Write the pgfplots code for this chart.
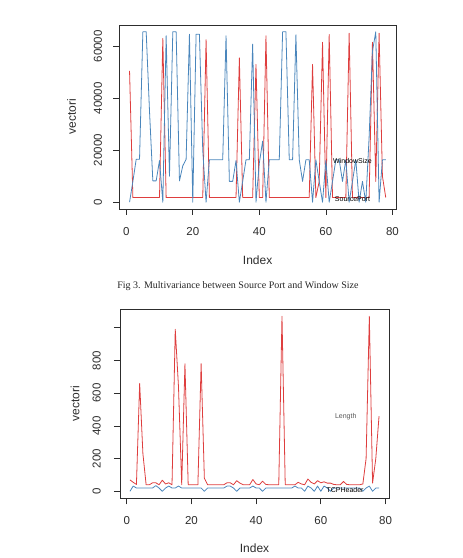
\documentclass[border=0pt]{standalone}
\usepackage{pgfplots}
\pgfplotsset{compat=1.18}
\usepackage{pgfplotstable}
\usepackage{fontspec}
\setmainfont{Liberation Sans}
\newfontfamily\capfont{Liberation Serif}

\definecolor{portred}{RGB}{222,62,62}
\definecolor{winblue}{RGB}{74,134,188}
\definecolor{framegray}{RGB}{45,45,45}

% Source port and window size per packet index
\pgfplotstableread{
i src win
1 50500 0
2 1800 8000
3 1800 16500
4 1800 16500
5 1800 65535
6 1800 65535
7 1800 35000
8 1800 8200
9 1800 8200
10 1800 16000
11 63000 0
12 1800 64000
13 1800 10000
14 1800 65535
15 1800 65535
16 1800 8200
17 1800 14000
18 1800 16500
19 1800 64600
20 1800 0
21 1800 64600
22 1800 64600
23 1800 20000
24 62500 0
25 1800 16300
26 1800 16300
27 1800 16300
28 1800 16300
29 1800 16300
30 1800 64000
31 1800 8000
32 1800 8000
33 1800 16000
34 55500 0
35 1800 8000
36 1800 16300
37 1800 16300
38 1800 60800
39 53000 0
40 1800 15000
41 1800 23500
42 64000 0
43 1800 16300
44 1800 16300
45 1800 16300
46 1800 16300
47 1800 65535
48 1800 65535
49 1800 16300
50 1800 16300
51 1800 64400
52 1800 16300
53 1800 8000
54 1800 16300
55 1800 16300
56 53000 0
57 1800 16300
58 8000 8000
59 61500 0
60 1800 16000
61 64500 0
62 1800 8000
63 1800 16300
64 1800 16300
65 1800 8000
66 1800 16300
67 65000 0
68 1800 8000
69 1800 16300
70 1800 0
71 1800 8000
72 1800 0
73 1800 25000
74 61500 58000
75 8000 65535
76 65000 0
77 10000 16300
78 1800 16300
}\portwin

% Packet length and TCP header length per packet index
\pgfplotstableread{
i len tcp
1 70 0
2 55 32
3 42 20
4 660 20
5 230 20
6 40 20
7 40 20
8 52 20
9 52 35
10 40 20
11 68 0
12 45 20
13 52 32
14 40 20
15 990 20
16 640 32
17 40 20
18 780 20
19 40 20
20 40 20
21 40 20
22 40 20
23 780 20
24 80 0
25 40 20
26 40 20
27 40 20
28 40 20
29 40 20
30 40 20
31 52 32
32 52 32
33 40 20
34 65 0
35 50 20
36 40 20
37 40 20
38 40 20
39 72 32
40 45 20
41 40 20
42 62 0
43 42 20
44 40 20
45 40 20
46 40 20
47 40 20
48 1070 20
49 40 20
50 40 20
51 40 20
52 40 32
53 55 20
54 45 20
55 40 0
56 75 32
57 55 20
58 45 0
59 65 32
60 52 0
61 58 32
62 50 20
63 50 0
64 42 20
65 40 20
66 40 20
67 60 20
68 42 20
69 40 20
70 40 20
71 40 20
72 40 20
73 45 0
74 200 20
75 1070 32
76 50 0
77 200 20
78 460 20
}\lenhdr

\pgfplotsset{
  rplot/.style={
    scale only axis,
    axis line style={framegray, line width=0.8pt},
    tick style={framegray, line width=0.7pt},
    tick align=outside,
    major tick length=6pt,
    tick pos=left,
    xmin=-2.08, xmax=81.08,
    xtick={0,20,...,80},
    scaled ticks=false,
    /pgf/number format/assume math mode=true,
    /pgf/number format/1000 sep={},
    tick label style={font=\fontsize{11.5}{13}\selectfont, text=framegray},
    label style={font=\fontsize{12}{14}\selectfont, text=framegray},
    xticklabel style={anchor=north, inner sep=0pt},
    yticklabel style={rotate=90, anchor=south, inner sep=0pt},
    xticklabel shift=12pt,
    yticklabel shift=11pt,
    xlabel={Index},
    ylabel={vectori},
    every axis plot/.append style={line width=0.8pt, line join=round},
  }
}

\begin{document}
\begin{tikzpicture}
\path[use as bounding box] (0pt,0pt) rectangle (463pt,558pt);

% Upper panel: source port against window size
\begin{axis}[rplot,
  at={(119.3pt,349pt)}, anchor=south west,
  width=276.7pt, height=184pt,
  ymin=-2621, ymax=68156,
  ytick={0,20000,40000,60000},
  xlabel style={at={(axis description cs:0.5,-0.277)}, anchor=center},
  ylabel style={at={(axis description cs:-0.172,0.5)}, anchor=center},
]
\addplot[portred] table[x=i, y=src] {\portwin};
\addplot[winblue] table[x=i, y=win] {\portwin};
\node[font=\fontsize{7}{8}\selectfont, text=black] at (axis cs:68,15700) {WindowSize};
\node[font=\fontsize{7}{8}\selectfont, text=black] at (axis cs:68,1200) {SourcePort};
\end{axis}

\node[font=\capfont\fontsize{10}{12}\selectfont, text=black!85] at (238pt,272.3pt)
  {Fig 3. Multivariance between Source Port and Window Size};

% Lower panel: packet length against TCP header length
\begin{axis}[rplot,
  at={(120pt,59.7pt)}, anchor=south west,
  width=269pt, height=189pt,
  ymin=-42.8, ymax=1112.8,
  ytick={0,200,400,600,800,1000},
  yticklabels={0,200,400,600,800,},
  xlabel style={at={(axis description cs:0.5,-0.265)}, anchor=center},
  ylabel style={at={(axis description cs:-0.167,0.5)}, anchor=center},
  yticklabel shift=13pt,
]
\addplot[portred] table[x=i, y=len] {\lenhdr};
\addplot[winblue] table[x=i, y=tcp] {\lenhdr};
\node[font=\fontsize{7}{8}\selectfont, text=framegray!80] at (axis cs:67.7,454) {Length};
\node[font=\fontsize{7}{8}\selectfont, text=black] at (axis cs:67.5,10) {TCPHeader};
\end{axis}
\end{tikzpicture}
\end{document}
